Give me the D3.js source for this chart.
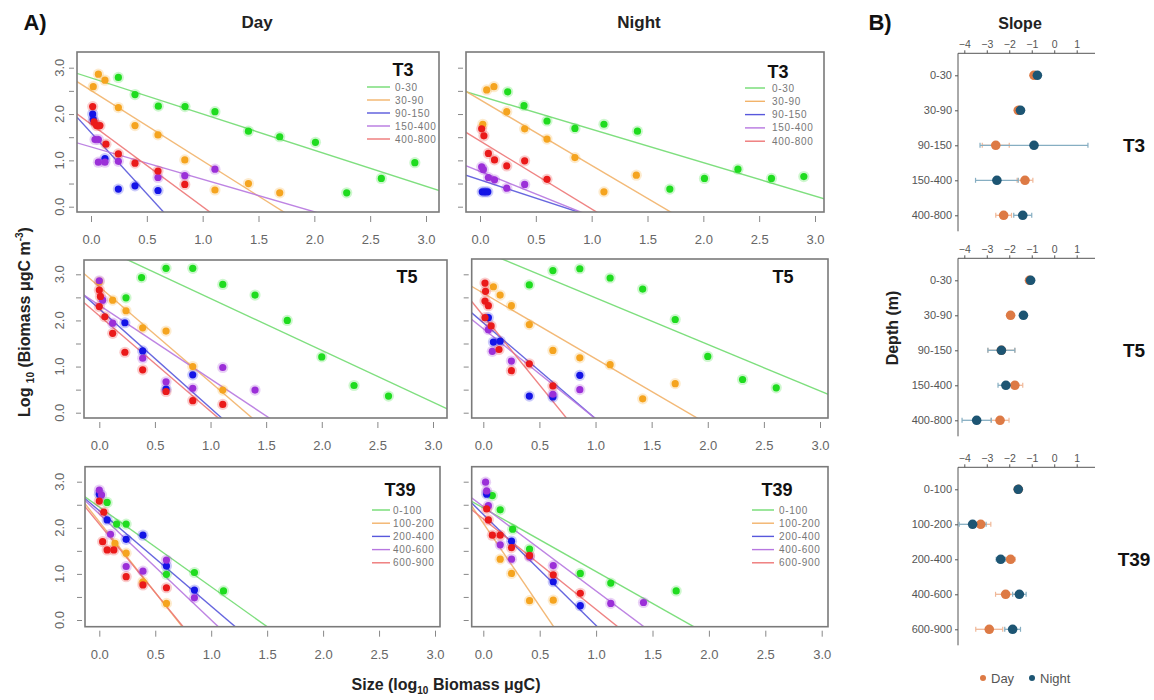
<!DOCTYPE html>
<html><head><meta charset="utf-8">
<script src="https://cdn.jsdelivr.net/npm/d3@7"></script>
<style>
body{margin:0;background:#fff}
text{font-family:"Liberation Sans",Arial,Helvetica,sans-serif}
</style>
</head><body>
<svg id="chart" width="1154" height="700"></svg>
<script>
// ---------- data ----------
const depthsShelf = ["0-30", "30-90", "90-150", "150-400", "400-800"];
const depthsOcean = ["0-100", "100-200", "200-400", "400-600", "600-900"];
const transects = ["T3", "T5", "T39"];
const periods = ["Day", "Night"];
const sizeTicks = [0, 0.5, 1, 1.5, 2, 2.5, 3];
const biomassTicks = [0, 0.5, 1, 1.5, 2, 2.5, 3];
const biomassLabels = [0, 1, 2, 3];
const slopeTicks = [-4, -3, -2, -1, 0, 1];

// size-spectrum points: [depth layer, log10 size, log10 biomass]
const t3Day = [
  [0,0.245,2.79],[0,0.394,2.42],[0,0.603,2.17],[0,0.842,2.16],[0,1.11,2.05],[0,1.41,1.63],[0,1.69,1.51],[0,2.01,1.39],[0,2.29,0.30],[0,2.60,0.61],[0,2.90,0.95],
  [1,0.066,2.86],[1,0.125,2.73],[1,0.02,2.59],[1,0.245,2.14],[1,0.394,1.75],[1,0.60,1.55],[1,0.84,1.01],[1,1.11,0.36],[1,1.41,0.50],[1,1.69,0.30],
  [2,0.015,2.0],[2,0.02,1.88],[2,0.125,1.04],[2,0.245,0.38],[2,0.394,0.45],[2,0.60,0.35],
  [3,0.036,1.45],[3,0.066,1.45],[3,0.066,0.96],[3,0.125,0.96],[3,0.245,0.98],[3,0.60,0.63],[3,0.84,0.67],[3,1.11,0.81],
  [4,0.015,2.16],[4,0.027,1.83],[4,0.05,1.75],[4,0.08,1.75],[4,0.134,1.35],[4,0.245,1.14],[4,0.394,0.94],[4,0.60,0.77],[4,0.84,0.48]
];
const t3Night = [
  [0,0.248,2.48],[0,0.394,2.18],[0,0.60,1.85],[0,0.85,1.69],[0,1.11,1.78],[0,1.41,1.63],[0,1.70,0.38],[0,2.01,0.61],[0,2.31,0.81],[0,2.61,0.61],[0,2.90,0.65],
  [1,0.06,2.52],[1,0.125,2.59],[1,0.24,2.05],[1,0.40,1.68],[1,0.60,1.46],[1,0.85,1.06],[1,1.11,0.32],[1,1.40,0.68],[1,0.025,1.78],
  [2,0.02,0.32],[2,0.045,0.32],[2,0.07,0.32],
  [3,0.015,0.86],[3,0.03,0.80],[3,0.075,0.63],[3,0.13,0.58],[3,0.24,0.40],[3,0.40,0.48],
  [4,0.015,1.68],[4,0.035,1.53],[4,0.075,1.15],[4,0.13,1.01],[4,0.24,0.88],[4,0.40,0.99],[4,0.60,0.59]
];
const t5Day = [
  [0,0.24,2.49],[0,0.38,2.93],[0,0.60,3.13],[0,0.84,3.13],[0,1.11,2.78],[0,1.40,2.55],[0,1.69,2.0],[0,2.0,1.21],[0,2.29,0.59],[0,2.60,0.36],
  [1,0.0,2.84],[1,0.12,2.44],[1,0.24,2.21],[1,0.39,1.84],[1,0.60,1.77],[1,0.84,1.0],[1,1.11,0.49],
  [2,0.23,1.95],[2,0.39,1.34],[2,0.60,0.51],[2,0.84,0.82],
  [3,0.0,2.86],[3,0.03,2.44],[3,0.12,1.94],[3,0.39,1.18],[3,0.60,0.67],[3,0.84,0.53],[3,1.11,0.98],[3,1.40,0.49],
  [4,0.0,2.66],[4,0.01,2.52],[4,0.0,2.30],[4,0.05,2.08],[4,0.12,1.72],[4,0.23,1.31],[4,0.39,0.93],[4,0.60,0.46],[4,0.84,0.26],[4,1.11,0.18]
];
const t5Night = [
  [0,0.41,2.77],[0,0.62,3.08],[0,0.86,3.12],[0,1.13,2.92],[0,1.42,2.68],[0,1.71,2.02],[0,2.0,1.22],[0,2.31,0.72],[0,2.61,0.54],
  [1,0.09,2.73],[1,0.15,2.55],[1,0.25,2.32],[1,0.41,1.91],[1,0.62,1.35],[1,0.86,1.19],[1,1.13,1.04],[1,1.42,0.30],[1,1.71,0.63],
  [2,0.09,1.53],[2,0.15,1.55],[2,0.41,0.36],[2,0.62,0.34],[2,0.86,0.81],[2,0.045,2.06],
  [3,0.045,1.80],[3,0.08,1.33],[3,0.25,1.12],[3,0.86,0.50],[3,0.62,0.40],
  [4,0.015,2.81],[4,0.02,2.63],[4,0.015,2.42],[4,0.045,2.32],[4,0.015,2.06],[4,0.07,1.88],[4,0.14,1.37],[4,0.25,0.91],[4,0.41,1.06],[4,0.62,0.58]
];
const t39Day = [
  [0,0.07,2.55],[0,0.155,2.08],[0,0.24,2.08],[0,0.60,0.99],[0,0.85,1.03],[0,1.11,0.63],
  [1,0.14,1.66],[1,0.24,1.45],[1,0.39,0.83],[1,0.60,0.36],
  [2,0.0,2.73],[2,0.07,2.17],[2,0.24,1.75],[2,0.39,1.84],[2,0.60,1.17],[2,0.85,0.65],
  [3,0.0,2.82],[3,0.02,2.71],[3,0.1,1.86],[3,0.24,1.16],[3,0.39,1.06],[3,0.60,1.30],[3,0.85,0.48],
  [4,0.0,2.58],[4,0.04,2.34],[4,0.03,1.70],[4,0.07,1.52],[4,0.13,1.52],[4,0.24,0.94],[4,0.39,0.76],[4,0.60,0.70]
];
const t39Night = [
  [0,0.08,2.70],[0,0.15,2.39],[0,0.26,1.97],[0,0.41,1.54],[0,0.86,1.01],[0,1.13,0.80],[0,1.71,0.63],
  [1,0.15,1.32],[1,0.25,1.01],[1,0.41,0.42],[1,0.62,0.43],
  [2,0.03,2.73],[2,0.25,1.71],[2,0.62,0.83],[2,0.86,0.31],
  [3,0.02,2.99],[3,0.03,2.80],[3,0.045,2.48],[3,0.15,1.63],[3,0.25,1.32],[3,0.41,1.37],[3,0.62,1.18],[3,1.13,0.36],[3,1.42,0.38],
  [4,0.03,2.41],[4,0.045,2.17],[4,0.08,1.84],[4,0.15,1.84],[4,0.25,1.57],[4,0.41,1.40],[4,0.62,0.98],[4,0.86,0.58]
];

// fitted spectra per depth layer: [intercept, slope]
const t3DayFit   = [[2.78,-0.78],[2.51,-1.52],[1.60,-2.64],[1.29,-0.70],[1.78,-1.78]];
const t3NightFit = [[2.39,-0.72],[2.31,-1.42],[0.58,-0.79],[0.76,-0.97],[1.42,-1.47]];
const t5DayFit   = [[3.60,-1.125],[2.73,-2.07],[2.25,-2.15],[2.33,-1.60],[2.10,-2.07]];
const t5NightFit = [[3.50,-1.01],[2.59,-1.42],[1.95,-2.08],[1.82,-1.95],[2.10,-2.99]];
const t39DayFit  = [[2.45,-1.73],[2.13,-3.07],[2.37,-2.07],[2.30,-2.30],[2.08,-2.97]];
const t39NightFit= [[2.43,-1.38],[2.10,-3.60],[2.29,-2.41],[2.46,-1.83],[2.19,-1.96]];

// spectrum slopes and their confidence half-widths
const t3SlopeDay   = [-0.90,-1.60,-2.60,-1.30,-2.25];
const t3CiDay      = [0.15,0.15,0.60,0.35,0.35];
const t3SlopeNight = [-0.75,-1.50,-0.90,-2.55,-1.40];
const t3CiNight    = [0.15,0.15,2.40,0.95,0.40];
const t5SlopeDay   = [-1.10,-1.94,-2.35,-1.75,-2.41];
const t5CiDay      = [0.15,0.10,0.60,0.35,0.40];
const t5SlopeNight = [-1.05,-1.37,-2.35,-2.15,-3.45];
const t5CiNight    = [0.15,0.10,0.60,0.35,0.65];
const t39SlopeDay  = [-1.60,-3.27,-1.94,-2.16,-2.89];
const t39CiDay     = [0.10,0.45,0.20,0.45,0.60];
const t39SlopeNight= [-1.60,-3.63,-2.38,-1.55,-1.85];
const t39CiNight   = [0.10,0.60,0.20,0.30,0.35];

// ---------- styling ----------
const pointColors = ["#1fdc1f", "#f5a41f", "#1414e6", "#9b2fd8", "#ea1a1a"];
const lineColors  = ["#72dc72", "#f2b36a", "#5858dc", "#b777e0", "#ee7777"];
const dayColor = "#dd7a45", nightColor = "#1d5573";
const dayBar = "#f0b898", nightBar = "#86aec2";
const FONT = '"Liberation Sans",Arial,sans-serif';

const svg = d3.select("#chart");
const defs = svg.append("defs");

// panel boxes and where 0 and 3 fall on each axis
const panels = [
  {id:"t3d", pts:t3Day, fit:t3DayFit, box:[77,439,52,212], x0:91, x3:426, y0:206.7, y3:67.7, yl:true, title:"T3", leg:depthsShelf, lg:[403,70,367,390,395,87,13]},
  {id:"t3n", pts:t3Night, fit:t3NightFit, box:[466,824,52,212], x0:480, x3:815, y0:206.7, y3:67.7, yl:false, title:"T3", leg:depthsShelf, lg:[778,72,745,765,772,88,13.3]},
  {id:"t5d", pts:t5Day, fit:t5DayFit, box:[84,447,260,418], x0:99.3, x3:433, y0:412.7, y3:274.3, yl:true, title:"T5", leg:null, lg:[407,277]},
  {id:"t5n", pts:t5Night, fit:t5NightFit, box:[471.7,828,259,418], x0:483.3, x3:820, y0:412.7, y3:274.3, yl:false, title:"T5", leg:null, lg:[783,277]},
  {id:"t39d", pts:t39Day, fit:t39DayFit, box:[85,440,466.7,626.7], x0:99.3, x3:435, y0:620, y3:481.7, yl:true, title:"T39", leg:depthsOcean, lg:[400,490,372,390,393,510,13.2]},
  {id:"t39n", pts:t39Night, fit:t39NightFit, box:[471.7,828,466.7,626.7], x0:483.3, x3:821.7, y0:620, y3:481.7, yl:false, title:"T39", leg:depthsOcean, lg:[777,490,752,774,779,510,13.2]}
];

panels.forEach(p => {
  const [bx0, bx1, by0, by1] = p.box;
  const x = d3.scaleLinear().domain([0, 3]).range([p.x0, p.x3]);
  const y = d3.scaleLinear().domain([0, 3]).range([p.y0, p.y3]);
  const g = svg.append("g");

  defs.append("clipPath").attr("id", "clip-" + p.id)
    .append("rect").attr("x", bx0).attr("y", by0).attr("width", bx1 - bx0).attr("height", by1 - by0);

  // fitted lines, clipped to the plot box
  const xa = x.invert(bx0 - 2), xb = x.invert(bx1 + 2);
  g.append("g").attr("clip-path", `url(#clip-${p.id})`)
    .selectAll("line").data(p.fit).join("line")
    .attr("x1", x(xa)).attr("y1", d => y(d[0] + d[1] * xa))
    .attr("x2", x(xb)).attr("y2", d => y(d[0] + d[1] * xb))
    .attr("stroke", (d, i) => lineColors[i]).attr("stroke-width", 1.4).attr("opacity", 0.9);

  // points with a soft halo
  const pg = g.append("g").attr("clip-path", `url(#clip-${p.id})`);
  pg.selectAll("circle.halo").data(p.pts).join("circle").attr("class", "halo")
    .attr("cx", d => x(d[1])).attr("cy", d => y(d[2])).attr("r", 5.6)
    .attr("fill", d => pointColors[d[0]]).attr("opacity", 0.22);
  pg.selectAll("circle.pt").data(p.pts).join("circle").attr("class", "pt")
    .attr("cx", d => x(d[1])).attr("cy", d => y(d[2])).attr("r", 3.6)
    .attr("fill", d => pointColors[d[0]]);

  // frame
  g.append("rect").attr("x", bx0).attr("y", by0).attr("width", bx1 - bx0).attr("height", by1 - by0)
    .attr("fill", "none").attr("stroke", "#7a7a7a").attr("stroke-width", 1.6);

  // x axis under the frame
  const xAxis = d3.axisBottom(x).tickValues(sizeTicks).tickFormat(d3.format(".1f")).tickSize(6).tickPadding(13);
  const xg = g.append("g").attr("transform", `translate(0,${by1 + 4})`).call(xAxis);
  xg.select(".domain").remove();
  xg.selectAll(".tick line").attr("stroke", "#888");
  xg.selectAll(".tick text").attr("fill", "#666").style("font-size", "13px").style("font-family", FONT);

  // y axis at the left of the frame
  const yAxis = d3.axisLeft(y).tickValues(biomassTicks).tickSize(5).tickFormat("");
  const yg = g.append("g").attr("transform", `translate(${bx0 - 3},0)`).call(yAxis);
  yg.select(".domain").remove();
  yg.selectAll(".tick line").attr("stroke", "#888");
  if (p.yl) {
    g.selectAll("text.ylab").data(biomassLabels).join("text").attr("class", "ylab")
      .attr("transform", d => `translate(59,${y(d)}) rotate(-90)`)
      .attr("text-anchor", "middle").attr("dy", "0.35em")
      .attr("fill", "#666").style("font-size", "13px").text(d => d3.format(".1f")(d));
  }

  // panel tag and legend
  g.append("text").attr("x", p.lg[0]).attr("y", p.lg[1]).attr("text-anchor", "middle").attr("dy", "0.36em")
    .style("font-size", "18px").style("font-weight", "bold").attr("fill", "#111").text(p.title);
  if (p.leg) {
    const [, , lx0, lx1, tx, ly, dy] = p.lg;
    const lg = g.append("g");
    p.leg.forEach((name, i) => {
      lg.append("line").attr("x1", lx0).attr("x2", lx1).attr("y1", ly + i * dy).attr("y2", ly + i * dy)
        .attr("stroke", lineColors[i]).attr("stroke-width", 1.4);
      lg.append("text").attr("x", tx).attr("y", ly + i * dy).attr("dy", "0.35em")
        .style("font-size", "10px").style("letter-spacing", "0.7px").attr("fill", "#777").text(name);
    });
  }
});

// column headings and axis titles for panel A
svg.append("text").attr("x", 35).attr("y", 22).attr("dy", "0.36em").attr("text-anchor", "middle")
  .style("font-size", "22px").style("font-weight", "bold").attr("fill", "#111").text("A)");
svg.append("text").attr("x", 257).attr("y", 22).attr("dy", "0.36em").attr("text-anchor", "middle")
  .style("font-size", "17px").style("font-weight", "bold").attr("fill", "#222").text(periods[0]);
svg.append("text").attr("x", 639).attr("y", 22).attr("dy", "0.36em").attr("text-anchor", "middle")
  .style("font-size", "17px").style("font-weight", "bold").attr("fill", "#222").text(periods[1]);

const yTitle = svg.append("text").attr("transform", "translate(24,322) rotate(-90)")
  .attr("text-anchor", "middle").attr("dy", "0.36em")
  .style("font-size", "16px").style("font-weight", "bold").attr("fill", "#222");
yTitle.append("tspan").text("Log ");
yTitle.append("tspan").attr("dy", "4").style("font-size", "10px").text("10");
yTitle.append("tspan").attr("dy", "-4").text(" (Biomass μgC m");
yTitle.append("tspan").attr("dy", "-7").style("font-size", "10px").text("-3");
yTitle.append("tspan").attr("dy", "7").text(")");

const xTitle = svg.append("text").attr("x", 446).attr("y", 690).attr("text-anchor", "middle")
  .style("font-size", "16px").style("font-weight", "bold").attr("fill", "#222");
xTitle.append("tspan").text("Size (log");
xTitle.append("tspan").attr("dy", "4").style("font-size", "10px").text("10");
xTitle.append("tspan").attr("dy", "-4").text(" Biomass μgC)");

// ---------- panel B: spectrum slopes ----------
const sx = d3.scaleLinear().domain([-4, 1]).range([964.3, 1076.7]);
const slopeGroups = [
  {name:transects[0], top:53.3, cats:depthsShelf, day:t3SlopeDay, dci:t3CiDay, night:t3SlopeNight, nci:t3CiNight},
  {name:transects[1], top:258.3, cats:depthsShelf, day:t5SlopeDay, dci:t5CiDay, night:t5SlopeNight, nci:t5CiNight},
  {name:transects[2], top:467.3, cats:depthsOcean, day:t39SlopeDay, dci:t39CiDay, night:t39SlopeNight, nci:t39CiNight}
];
const axisLeftX = 958;

slopeGroups.forEach(s => {
  const g = svg.append("g");
  const cy = d3.scalePoint().domain(s.cats).range([s.top + 22, s.top + 162]);

  // top axis
  const ax = d3.axisTop(sx).tickValues(slopeTicks).tickSize(3).tickPadding(2).tickFormat(d3.format("d"));
  const ag = g.append("g").attr("transform", `translate(0,${s.top})`).call(ax);
  ag.select(".domain").remove();
  ag.selectAll(".tick line").attr("stroke", "#555");
  ag.selectAll(".tick text").attr("fill", "#555").style("font-size", "10.5px").style("font-family", FONT);
  g.append("line").attr("x1", axisLeftX).attr("x2", 1095).attr("y1", s.top).attr("y2", s.top)
    .attr("stroke", "#555").attr("stroke-width", 1);
  g.append("line").attr("x1", axisLeftX).attr("x2", axisLeftX).attr("y1", s.top).attr("y2", s.top + 178)
    .attr("stroke", "#555").attr("stroke-width", 1);

  // depth categories
  const cg = g.append("g").attr("transform", `translate(${axisLeftX},0)`)
    .call(d3.axisLeft(cy).tickSize(3).tickPadding(3));
  cg.select(".domain").remove();
  cg.selectAll(".tick line").attr("stroke", "#555");
  cg.selectAll(".tick text").attr("fill", "#555").style("font-size", "11px").style("font-family", FONT);

  // error bars then points (night drawn over day)
  const rows = s.cats.map((c, i) => ({c, d:s.day[i], dc:s.dci[i], n:s.night[i], nc:s.nci[i]}));
  const drawBar = (val, ci, yy, col) => {
    g.append("line").attr("x1", sx(val - ci)).attr("x2", sx(val + ci)).attr("y1", yy).attr("y2", yy)
      .attr("stroke", col).attr("stroke-width", 1.3);
    [val - ci, val + ci].forEach(v => g.append("line").attr("x1", sx(v)).attr("x2", sx(v))
      .attr("y1", yy - 2.5).attr("y2", yy + 2.5).attr("stroke", col).attr("stroke-width", 1.2));
  };
  rows.forEach(r => { drawBar(r.d, r.dc, cy(r.c), dayBar); drawBar(r.n, r.nc, cy(r.c), nightBar); });
  g.selectAll("circle.day").data(rows).join("circle").attr("class", "day")
    .attr("cx", r => sx(r.d)).attr("cy", r => cy(r.c)).attr("r", 4.8).attr("fill", dayColor);
  g.selectAll("circle.night").data(rows).join("circle").attr("class", "night")
    .attr("cx", r => sx(r.n)).attr("cy", r => cy(r.c)).attr("r", 4.8).attr("fill", nightColor);

  g.append("text").attr("x", 1134).attr("y", cy(s.cats[2])).attr("dy", "0.36em").attr("text-anchor", "middle")
    .style("font-size", "19px").style("font-weight", "bold").attr("fill", "#111").text(s.name);
});

svg.append("text").attr("x", 880).attr("y", 22).attr("dy", "0.36em").attr("text-anchor", "middle")
  .style("font-size", "22px").style("font-weight", "bold").attr("fill", "#111").text("B)");
svg.append("text").attr("x", 1020).attr("y", 23).attr("dy", "0.36em").attr("text-anchor", "middle")
  .style("font-size", "16px").style("font-weight", "bold").attr("fill", "#222").text("Slope");
svg.append("text").attr("transform", "translate(892,328) rotate(-90)").attr("text-anchor", "middle").attr("dy", "0.36em")
  .style("font-size", "16px").style("font-weight", "bold").attr("fill", "#222").text("Depth (m)");

// legend for panel B
const lgB = svg.append("g");
lgB.append("circle").attr("cx", 983).attr("cy", 678).attr("r", 3).attr("fill", dayColor);
lgB.append("text").attr("x", 991).attr("y", 678).attr("dy", "0.35em").style("font-size", "13px").attr("fill", "#555").text(periods[0]);
lgB.append("circle").attr("cx", 1032).attr("cy", 678).attr("r", 3).attr("fill", nightColor);
lgB.append("text").attr("x", 1040).attr("y", 678).attr("dy", "0.35em").style("font-size", "13px").attr("fill", "#555").text(periods[1]);
</script>
</body></html>
